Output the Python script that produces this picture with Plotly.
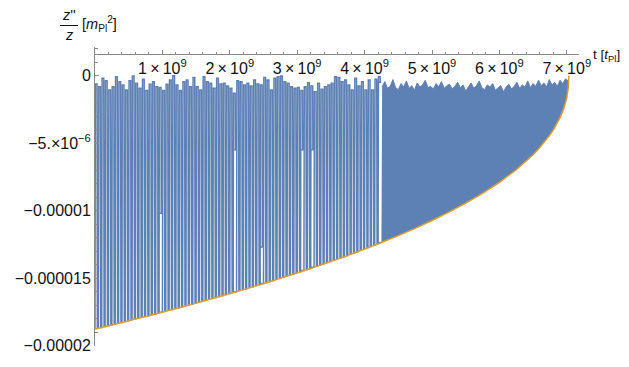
import plotly.graph_objects as go

T_UNIT = 1e9    # t in units of 10^9 t_Pl
V_UNIT = 1e-6   # z''/z in units of 10^-6 m_Pl^2

# ---- lower envelope (orange curve) ----
env_left_step = 0.05          # samples t = 0, 0.05, ..., 4.25
env_left = [-18.78, -18.72, -18.66, -18.60, -18.54, -18.48, -18.42, -18.35, -18.29, -18.23,
            -18.17, -18.10, -18.04, -17.98, -17.91, -17.85, -17.79, -17.72, -17.66, -17.59,
            -17.53, -17.46, -17.39, -17.33, -17.26, -17.20, -17.13, -17.06, -16.99, -16.92,
            -16.86, -16.79, -16.72, -16.65, -16.58, -16.51, -16.44, -16.37, -16.30, -16.23,
            -16.15, -16.08, -16.01, -15.93, -15.86, -15.79, -15.71, -15.64, -15.56, -15.49,
            -15.41, -15.33, -15.26, -15.18, -15.10, -15.02, -14.94, -14.86, -14.78, -14.70,
            -14.62, -14.54, -14.45, -14.37, -14.29, -14.21, -14.12, -14.03, -13.95, -13.86,
            -13.77, -13.69, -13.60, -13.51, -13.42, -13.33, -13.23, -13.14, -13.05, -12.95,
            -12.86, -12.76, -12.66, -12.57, -12.47, -12.37]
env_right_t = [4.5, 4.75, 5.0, 5.25, 5.5, 5.75, 6.0, 6.25, 6.5, 6.6, 6.75, 6.8, 6.9, 6.95,
               6.98, 7.0, 7.02, 7.03]
env_right = [-11.86, -11.32, -10.74, -10.12, -9.46, -8.73, -7.91, -6.98, -5.87, -5.34,
             -4.40, -4.03, -3.12, -2.51, -2.03, -1.61, -0.98, 0.0]

# ---- blue oscillation, left part: top of each spike (one spike per 0.05e9) ----
spike_top = [-0.63, -0.83, -0.21, -0.38, -1.07, -0.83, -0.09, -0.46, -0.70, -1.07,
             -0.38, -0.04, -0.58, -0.95, -0.28, -1.12, -0.65, -0.46, -0.83, -0.88,
             -1.12, -0.65, -0.33, -0.02, -0.70, -1.12, -0.46, -0.33, -0.83, -0.14,
             -0.83, -1.07, -0.09, -0.46, -0.58, -0.95, -0.21, -0.63, -0.58, -0.78,
             -0.95, -1.32, -0.38, -0.46, -0.70, -0.58, -0.78, -0.33, -0.63, -0.70,
             -0.14, -0.33, -1.07, -0.21, -0.09, -0.04, -0.46, -0.58, -0.83, -0.95,
             -0.88, -1.12, -0.83, -0.53, -0.78, -1.20, -0.58, -1.02, -0.83, -0.70,
             -0.58, -0.09, -0.14, -0.46, -0.33, -0.70, -1.07, -0.21, -0.78, -0.46,
             -1.07, -0.33, -1.07, -0.28, -0.09]
# phase slips: spike index and depth where a white stripe begins
slip_index = [19, 41, 49, 61, 64, 84]
slip_depth = [-10.2, -5.5, -12.7, -5.5, -5.5, -0.5]

# ---- blue oscillation, right part: jagged upper edge (every 0.04e9 from 4.26e9) ----
right_t0 = 4.26
right_step = 0.04
right_top = [-0.85, -0.45, -0.95, -0.80, -0.30, -0.90, -1.05, -0.60, -0.85, -0.40,
             -0.95, -0.75, -1.10, -0.55, -0.85, -0.70, -0.35, -0.90, -0.80, -1.00,
             -0.60, -0.85, -0.45, -0.95, -0.75, -0.65, -1.00, -0.80, -0.50, -0.90,
             -0.70, -1.15, -0.85, -0.55, -0.95, -0.75, -0.40, -0.90, -1.05, -0.70,
             -0.85, -0.60, -1.10, -0.90, -0.75, -1.20, -0.85, -0.65, -1.00, -0.80,
             -0.50, -0.95, -0.70, -0.85, -0.40, -0.90, -0.60, -0.80, -0.35, -0.75,
             -0.55, -0.85, -0.30, -0.70, -0.50, -0.80, -0.35, -0.60, -0.25, -0.40]

# ---- axes ticks ----
x_tick_vals = [1, 2, 3, 4, 5, 6, 7]
x_tick_text = ["%d\u2009\u00d7\u200910<sup>9</sup>" % v for v in x_tick_vals]
y_tick_vals = [0, -5, -10, -15, -20]
y_tick_text = ["0", "\u22125.\u00d710<sup>\u22126</sup>", "\u22120.00001", "\u22120.000015", "\u22120.00002"]

BLUE = "#5E81B5"
ORANGE = "#E19C24"
AXIS = "#8a8a8a"
TXT = "#111111"
FONT = "Liberation Sans, Arial, sans-serif"
FS = 16
FS_LAB = 14.5

# ---- build traces ----
env_left_t = [round(i * env_left_step, 2) for i in range(len(env_left))]
env_t = env_left_t + env_right_t
env_v = env_left + env_right

p = env_left_step
bx, by = [], []
for k, top in enumerate(spike_top):
    t0 = env_left_t[k]
    e0, e1 = env_left[k], env_left[k + 1]
    bx += [t0, t0 + 0.1 * p, t0 + 0.6 * p]
    by += [e0, top, top]
    if k in slip_index:
        sv = slip_depth[slip_index.index(k)]
        bx += [t0 + 0.65 * p, t0 + 0.0 * p, t0 + 0.02 * p]
        by += [sv, sv, e1]
    else:
        bx += [t0 + 0.7 * p]
        by += [e1]
bx.append(env_left_t[len(spike_top)])
by.append(env_left[len(spike_top)])

n_left = len(spike_top)
base_t = env_left_t[n_left:] + env_right_t
base_v = env_left[n_left:] + env_right
rt = [right_t0 + i * right_step for i in range(len(right_top))]

fig = go.Figure()
# base for the filled right part
fig.add_trace(go.Scatter(x=[t * T_UNIT for t in base_t], y=[v * V_UNIT for v in base_v],
                         mode="lines", line=dict(width=0, color=BLUE, simplify=False),
                         hoverinfo="skip", showlegend=False))
fig.add_trace(go.Scatter(x=[t * T_UNIT for t in rt], y=[v * V_UNIT for v in right_top],
                         mode="lines", line=dict(width=1, color=BLUE, simplify=False),
                         fill="tonexty", fillcolor=BLUE, showlegend=False))
# oscillating left part
fig.add_trace(go.Scatter(x=[t * T_UNIT for t in bx], y=[v * V_UNIT for v in by],
                         mode="lines", line=dict(width=1.5, color=BLUE, simplify=False),
                         showlegend=False))
# orange envelope
fig.add_trace(go.Scatter(x=[t * T_UNIT for t in env_t], y=[v * V_UNIT for v in env_v],
                         mode="lines", line=dict(width=1.5, color=ORANGE, simplify=False),
                         showlegend=False))

# ---- layout geometry (page pixels; the page body adds an 8 px offset) ----
OFF = 8
W, H = 629 - OFF, 367 - OFF
L, R, TOP, BOT = 95 - OFF, 579 - OFF, 47 - OFF, 346 - OFF
X_AXIS_PX = 54 - OFF
px_per_t = 67.4
px_per_v = 13.5
zero_px = 75.5 - OFF

x_max = (R - L) / px_per_t
y_max = (zero_px - TOP) / px_per_v
y_min = -(BOT - zero_px) / px_per_v


def pxx(x):
    return (x - OFF - L) / (R - L)


def pxy(y):
    return (BOT - (y - OFF)) / (BOT - TOP)


fig.update_layout(
    width=W, height=H,
    margin=dict(l=L, r=W - R, t=TOP, b=H - BOT, pad=0),
    paper_bgcolor="white", plot_bgcolor="white",
    font=dict(family=FONT, size=FS, color=TXT),
    showlegend=False,
    xaxis=dict(range=[0, x_max * T_UNIT], anchor="free", position=(BOT - X_AXIS_PX) / (BOT - TOP),
               automargin=False,
               showline=True, linecolor=AXIS, linewidth=1, showgrid=False, zeroline=False,
               ticks="inside", ticklen=4, tickcolor=AXIS, tickwidth=1,
               tickmode="array", tickvals=[v * T_UNIT for v in x_tick_vals], ticktext=x_tick_text,
               tickfont=dict(family=FONT, size=FS, color=TXT),
               minor=dict(ticks="inside", ticklen=2.5, tickcolor=AXIS, tickwidth=1,
                          tick0=0, dtick=0.2 * T_UNIT, showgrid=False)),
    yaxis=dict(range=[y_min * V_UNIT, y_max * V_UNIT], automargin=False,
               showline=True, linecolor=AXIS, linewidth=1, showgrid=False, zeroline=False,
               ticks="inside", ticklen=4, tickcolor=AXIS, tickwidth=1,
               tickmode="array", tickvals=[v * V_UNIT for v in y_tick_vals], ticktext=y_tick_text,
               tickfont=dict(family=FONT, size=FS, color=TXT),
               minor=dict(ticks="inside", ticklen=2.5, tickcolor=AXIS, tickwidth=1,
                          tick0=0, dtick=1 * V_UNIT, showgrid=False)),
)

# axis labels (positions given in page pixels)
fig.add_annotation(xref="paper", yref="paper", x=pxx(592), y=pxy(56), xanchor="left", yanchor="middle",
                   text="t [<i>t</i><sub>Pl</sub>]", showarrow=False, borderpad=0,
                   font=dict(family=FONT, size=13.5, color=TXT))
fig.add_annotation(xref="paper", yref="paper", x=pxx(69), y=pxy(15), xanchor="center", yanchor="middle",
                   text="<i>z</i>''", showarrow=False, borderpad=0,
                   font=dict(family=FONT, size=FS_LAB, color=TXT))
fig.add_annotation(xref="paper", yref="paper", x=pxx(69), y=pxy(35), xanchor="center", yanchor="middle",
                   text="<i>z</i>", showarrow=False, borderpad=0,
                   font=dict(family=FONT, size=FS_LAB, color=TXT))
fig.add_shape(type="line", xref="paper", yref="paper", x0=pxx(60), x1=pxx(78), y0=pxy(25.5), y1=pxy(25.5),
              line=dict(color=TXT, width=1))
fig.add_annotation(xref="paper", yref="paper", x=pxx(81), y=pxy(24), xanchor="left", yanchor="middle",
                   text="[<i>m</i><sub>Pl</sub><sup>2</sup>]", showarrow=False, borderpad=0,
                   font=dict(family=FONT, size=FS_LAB, color=TXT))

fig.write_html("out.html")
